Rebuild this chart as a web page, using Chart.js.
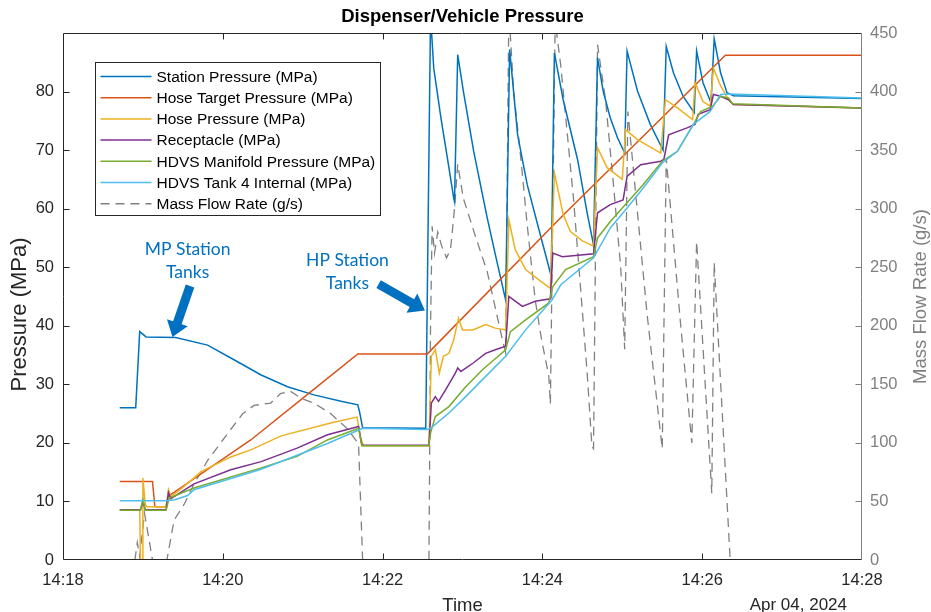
<!DOCTYPE html>
<html>
<head>
<meta charset="utf-8">
<title>Dispenser/Vehicle Pressure</title>
<script src="https://cdn.jsdelivr.net/npm/chart.js@4.4.1/dist/chart.umd.min.js"></script>
<style>
  html, body { margin: 0; padding: 0; background: #fff; }
  #wrap { position: relative; width: 931px; height: 612px; }
</style>
</head>
<body>
<div id="wrap"><canvas id="pressureChart"></canvas></div>
<script>
// time is in minutes after 14:18:00, pressures in MPa, flow in g/s
const stationTime = [0.71, 0.91, 0.96, 1.04, 1.41, 1.81, 2.14, 2.48, 2.81, 3.14, 3.48, 3.69, 3.71, 3.75, 4.54, 4.60, 4.64, 4.73, 4.81, 4.89, 4.90, 4.94, 5.01, 5.14, 5.31, 5.44, 5.54, 5.59, 5.69, 5.81, 5.94, 6.11, 6.15, 6.26, 6.44, 6.56, 6.64, 6.69, 6.76, 6.85, 6.94, 7.03, 7.06, 7.19, 7.35, 7.51, 7.55, 7.64, 7.76, 7.90, 7.93, 8.01, 8.11, 8.15, 8.23, 8.31, 8.39, 10.0];
const stationP = [26.0, 26.0, 39.0, 38.1, 38.0, 36.7, 34.2, 31.6, 29.6, 28.2, 27.1, 26.5, 25.4, 22.6, 22.5, 93.0, 84.0, 75.5, 68.7, 61.8, 61.2, 86.3, 80.1, 69.8, 58.4, 50.4, 44.4, 87.2, 72.6, 64.1, 57.3, 48.5, 86.6, 78.6, 68.4, 59.3, 53.8, 85.8, 80.1, 75.5, 72.1, 69.5, 86.9, 80.1, 74.4, 70.0, 87.7, 83.2, 79.2, 76.4, 86.9, 81.5, 78.1, 89.0, 83.2, 79.8, 79.3, 78.8];

const targetTime = [0.71, 1.12, 1.15, 1.29, 1.32, 2.35, 3.08, 3.69, 4.56, 6.29, 8.29, 10.0];
const targetP = [13.4, 13.4, 9.1, 9.1, 10.9, 20.5, 28.5, 35.2, 35.2, 59.3, 86.2, 86.2];

const hoseTime = [0.71, 0.96, 0.97, 0.99, 1.00, 1.03, 1.05, 1.29, 1.32, 1.35, 1.50, 1.73, 2.10, 2.35, 2.73, 3.35, 3.68, 3.72, 3.76, 4.58, 4.61, 4.66, 4.71, 4.76, 4.83, 4.89, 4.95, 5.00, 5.13, 5.29, 5.41, 5.54, 5.58, 5.66, 5.79, 5.98, 6.10, 6.15, 6.26, 6.35, 6.50, 6.64, 6.69, 6.81, 7.00, 7.04, 7.19, 7.48, 7.54, 7.69, 7.88, 7.91, 8.01, 8.10, 8.14, 8.23, 8.33, 8.39, 10.0];
const hoseP = [8.6, 8.6, 0, 0, 14.0, 9.5, 9.1, 9.1, 12.0, 10.8, 12.4, 15.1, 17.6, 18.8, 21.2, 23.4, 24.4, 21.0, 19.5, 19.5, 34.8, 35.9, 31.9, 34.8, 35.3, 37.6, 41.3, 39.3, 39.3, 40.2, 39.6, 39.3, 58.1, 53.0, 49.6, 47.6, 46.4, 66.1, 59.0, 56.1, 54.5, 53.6, 70.4, 67.0, 65.0, 73.5, 71.8, 69.5, 78.6, 77.2, 75.2, 81.5, 78.3, 77.5, 84.0, 81.0, 78.6, 77.8, 77.2];

const receptacleTime = [0.71, 0.97, 1.00, 1.03, 1.29, 1.32, 1.35, 1.64, 2.10, 2.48, 2.93, 3.31, 3.70, 3.74, 4.58, 4.61, 4.66, 4.70, 4.79, 4.91, 4.94, 4.98, 5.13, 5.29, 5.41, 5.54, 5.58, 5.66, 5.75, 5.91, 6.10, 6.13, 6.25, 6.64, 6.69, 6.85, 7.01, 7.06, 7.23, 7.48, 7.52, 7.58, 7.81, 7.91, 7.95, 8.10, 8.14, 8.23, 8.33, 8.39, 10.0];
const receptacleP = [8.6, 8.6, 10.0, 8.6, 8.6, 11.5, 10.5, 13.0, 15.4, 16.8, 19.1, 21.4, 22.8, 19.6, 19.6, 26.8, 27.9, 27.1, 29.1, 31.9, 32.8, 32.2, 33.6, 35.3, 35.9, 36.5, 45.0, 44.2, 43.3, 44.2, 44.6, 52.4, 51.8, 52.3, 59.3, 60.7, 61.5, 65.5, 67.5, 68.1, 68.4, 72.6, 73.8, 74.4, 76.1, 76.9, 79.5, 79.2, 78.6, 77.8, 77.2];

const manifoldTime = [0.71, 0.97, 1.00, 1.03, 1.29, 1.33, 1.64, 2.45, 2.93, 3.31, 3.70, 3.74, 4.58, 4.60, 4.66, 4.83, 5.04, 5.25, 5.54, 5.60, 5.79, 6.08, 6.13, 6.29, 6.64, 6.69, 6.85, 7.04, 7.26, 7.50, 7.69, 7.89, 7.98, 8.13, 8.23, 8.33, 8.38, 10.0];
const manifoldP = [8.5, 8.5, 10.3, 8.5, 8.5, 10.6, 12.3, 15.6, 17.7, 20.5, 22.5, 19.5, 19.5, 21.7, 24.5, 26.2, 29.6, 32.5, 35.9, 39.0, 41.0, 43.9, 46.7, 49.6, 51.8, 55.0, 57.8, 60.7, 64.1, 68.1, 69.8, 74.4, 76.6, 77.5, 79.2, 78.9, 77.9, 77.2];

const tankTime = [0.71, 1.30, 1.40, 1.56, 1.64, 2.48, 3.31, 3.70, 3.75, 4.56, 4.60, 4.83, 5.04, 5.25, 5.54, 5.79, 6.12, 6.23, 6.64, 6.85, 7.06, 7.26, 7.50, 7.69, 7.89, 8.10, 8.23, 8.35, 10.0];
const tankP = [10.1, 10.1, 10.3, 11.0, 12.0, 15.5, 19.9, 22.2, 22.5, 22.3, 22.5, 25.1, 27.9, 30.8, 34.8, 39.3, 44.4, 47.0, 51.6, 56.7, 60.1, 63.5, 67.8, 69.8, 74.4, 76.6, 79.5, 79.6, 78.9];

const flowTime = [0.71, 0.90, 0.93, 0.96, 1.02, 1.12, 1.30, 1.39, 1.52, 1.64, 1.81, 2.06, 2.25, 2.39, 2.60, 2.72, 2.85, 2.98, 3.14, 3.35, 3.56, 3.68, 3.70, 3.75, 4.58, 4.60, 4.62, 4.65, 4.69, 4.74, 4.80, 4.85, 4.90, 4.94, 5.01, 5.14, 5.31, 5.49, 5.54, 5.58, 5.64, 5.73, 5.81, 5.91, 5.99, 6.08, 6.10, 6.16, 6.23, 6.31, 6.39, 6.48, 6.56, 6.62, 6.64, 6.69, 6.79, 6.89, 6.98, 7.03, 7.07, 7.31, 7.50, 7.55, 7.73, 7.87, 7.93, 8.12, 8.15, 8.35, 10.0];
const flowRate = [0, 0, 15, 3, 40, 0, 0, 34, 48, 65, 85, 108, 125, 132, 134, 142, 144, 138, 134, 125, 112, 101, 97, 0, 0, 200, 285, 262, 280, 268, 258, 265, 300, 338, 309, 281, 246, 191, 177, 470, 400, 343, 286, 222, 188, 157, 133, 460, 422, 365, 308, 230, 160, 97, 95, 440, 393, 320, 250, 180, 383, 210, 95, 343, 201, 100, 272, 57, 254, 0, 0];

const timeTicks = [0, 2, 4, 6, 8, 10];
const pressureTicks = [0, 10, 20, 30, 40, 50, 60, 70, 80];
const flowTicks = [0, 50, 100, 150, 200, 250, 300, 350, 400, 450];

const textDark = '#262626';
const flowGray = '#808080';
const callBlue = '#0070C0';
const fontFamily = "'Liberation Sans', Arial, sans-serif";

const toPoints = (times, values) => times.map((t, i) => ({ x: t, y: values[i] }));

const line = (label, times, values, color, order) => ({
  label: label,
  data: toPoints(times, values),
  borderColor: color,
  backgroundColor: color,
  borderWidth: 1.5,
  pointRadius: 0,
  tension: 0,
  fill: false,
  yAxisID: 'y',
  order: order
});

const datasets = [
  line('Station Pressure (MPa)', stationTime, stationP, '#0072BD', 6),
  line('Hose Target Pressure (MPa)', targetTime, targetP, '#D95319', 5),
  line('Hose Pressure (MPa)', hoseTime, hoseP, '#EDB120', 4),
  line('Receptacle (MPa)', receptacleTime, receptacleP, '#7E2F8E', 3),
  line('HDVS Manifold Pressure (MPa)', manifoldTime, manifoldP, '#77AC30', 2),
  line('HDVS Tank 4 Internal (MPa)', tankTime, tankP, '#4DBEEE', 1),
  {
    label: 'Mass Flow Rate (g/s)',
    data: toPoints(flowTime, flowRate),
    borderColor: flowGray,
    borderWidth: 1.3,
    borderDash: [9, 6],
    pointRadius: 0,
    tension: 0,
    fill: false,
    yAxisID: 'y1',
    order: 7
  }
];

// arrow with a thick shaft, drawn from (x0,y0) to the tip (x1,y1)
function drawArrow(ctx, x0, y0, x1, y1) {
  const len = Math.hypot(x1 - x0, y1 - y0);
  ctx.save();
  ctx.translate(x0, y0);
  ctx.rotate(Math.atan2(y1 - y0, x1 - x0));
  ctx.beginPath();
  ctx.moveTo(0, -4.5);
  ctx.lineTo(len - 15, -4.5);
  ctx.lineTo(len - 15, -11);
  ctx.lineTo(len, 0);
  ctx.lineTo(len - 15, 11);
  ctx.lineTo(len - 15, 4.5);
  ctx.lineTo(0, 4.5);
  ctx.closePath();
  ctx.fill();
  ctx.restore();
}

// callouts, placed in data units (minutes, MPa)
const callouts = [
  { lines: ['MP Station', 'Tanks'], at: [1.56, 53.0], from: [1.59, 46.8], to: [1.37, 38.1] },
  { lines: ['HP Station', 'Tanks'], at: [3.56, 51.1], from: [3.95, 47.1], to: [4.53, 42.6] }
];

// MATLAB style box: inward ticks, titles, legend and the callouts
const decorations = {
  id: 'decorations',
  afterDraw(chart) {
    const { ctx, chartArea: a, scales } = chart;
    const xs = scales.x, ys = scales.y, yr = scales.y1;
    const L = Math.round(a.left) + 0.5, R = Math.round(a.right) - 0.5;
    const T = Math.round(a.top) + 0.5, B = Math.round(a.bottom) - 0.5;
    const midX = (L + R) / 2, midY = (T + B) / 2;
    ctx.save();

    ctx.lineWidth = 1;
    ctx.strokeStyle = textDark;
    ctx.beginPath();
    ctx.moveTo(R, T); ctx.lineTo(L, T); ctx.lineTo(L, B); ctx.lineTo(R, B);
    timeTicks.slice(1, -1).forEach(v => {
      const px = Math.round(xs.getPixelForValue(v)) + 0.5;
      ctx.moveTo(px, B); ctx.lineTo(px, B - 6);
      ctx.moveTo(px, T); ctx.lineTo(px, T + 6);
    });
    pressureTicks.slice(1).forEach(v => {
      const py = Math.round(ys.getPixelForValue(v)) + 0.5;
      ctx.moveTo(L, py); ctx.lineTo(L + 6, py);
    });
    ctx.stroke();

    ctx.strokeStyle = flowGray;
    ctx.beginPath();
    ctx.moveTo(R, T); ctx.lineTo(R, B);
    flowTicks.slice(1, -1).forEach(v => {
      const py = Math.round(yr.getPixelForValue(v)) + 0.5;
      ctx.moveTo(R, py); ctx.lineTo(R - 6, py);
    });
    ctx.stroke();

    // titles
    ctx.fillStyle = '#000';
    ctx.textAlign = 'center';
    ctx.textBaseline = 'middle';
    ctx.font = `bold 18.5px ${fontFamily}`;
    ctx.fillText('Dispenser/Vehicle Pressure', midX, 17);

    ctx.fillStyle = textDark;
    ctx.textBaseline = 'alphabetic';
    ctx.font = `18.5px ${fontFamily}`;
    ctx.fillText('Time', midX, 611);
    ctx.textAlign = 'right';
    ctx.font = `17px ${fontFamily}`;
    ctx.fillText('Apr 04, 2024', 847, 610);

    ctx.textAlign = 'center';
    ctx.textBaseline = 'middle';
    ctx.save();
    ctx.translate(20, midY + 18);
    ctx.rotate(-Math.PI / 2);
    ctx.font = `22px ${fontFamily}`;
    ctx.fillText('Pressure (MPa)', 0, 0);
    ctx.restore();

    ctx.save();
    ctx.translate(921, midY);
    ctx.rotate(-Math.PI / 2);
    ctx.fillStyle = flowGray;
    ctx.font = `18.5px ${fontFamily}`;
    ctx.fillText('Mass Flow Rate (g/s)', 0, 0);
    ctx.restore();

    // legend
    const lx = Math.round(a.left) + 32.5, ly = Math.round(a.top) + 29.5;
    ctx.fillStyle = '#fff';
    ctx.fillRect(lx, ly, 285, 153);
    ctx.strokeStyle = textDark;
    ctx.strokeRect(lx, ly, 285, 153);
    ctx.font = `15.5px ${fontFamily}`;
    ctx.textAlign = 'left';
    chart.data.datasets.forEach((ds, i) => {
      const rowY = ly + 14 + i * 21.2;
      ctx.strokeStyle = ds.borderColor;
      ctx.lineWidth = 1.5;
      ctx.setLineDash(ds.borderDash || []);
      ctx.beginPath();
      ctx.moveTo(lx + 5, rowY);
      ctx.lineTo(lx + 56, rowY);
      ctx.stroke();
      ctx.setLineDash([]);
      ctx.fillStyle = '#000';
      ctx.fillText(ds.label, lx + 61, rowY + 1);
    });

    // callouts
    ctx.fillStyle = callBlue;
    ctx.textAlign = 'center';
    ctx.font = `17.5px Lato, 'Open Sans', sans-serif`;
    callouts.forEach(c => {
      const cx = xs.getPixelForValue(c.at[0]);
      const cy = ys.getPixelForValue(c.at[1]);
      c.lines.forEach((txt, i) => ctx.fillText(txt, cx, cy + i * 23));
      drawArrow(ctx,
        xs.getPixelForValue(c.from[0]), ys.getPixelForValue(c.from[1]),
        xs.getPixelForValue(c.to[0]), ys.getPixelForValue(c.to[1]));
    });

    ctx.restore();
  }
};

const tickFont = { family: fontFamily, size: 16.5 };

new Chart(document.getElementById('pressureChart'), {
  type: 'line',
  data: { datasets: datasets },
  options: {
    responsive: true,
    maintainAspectRatio: false,
    animation: false,
    layout: { padding: { top: 33, left: 0, right: 0, bottom: 0 } },
    plugins: {
      legend: { display: false },
      title: { display: false },
      tooltip: { enabled: false }
    },
    scales: {
      x: {
        type: 'linear',
        min: 0,
        max: 10,
        grid: { display: false, drawTicks: false },
        border: { display: false },
        afterBuildTicks: s => { s.ticks = timeTicks.map(v => ({ value: v })); },
        ticks: {
          padding: 11,
          color: textDark,
          font: tickFont,
          maxRotation: 0,
          autoSkip: false,
          callback: v => '14:' + (18 + v)
        },
        afterFit: s => { s.height = 52; }
      },
      y: {
        position: 'left',
        min: 0,
        max: 90,
        grid: { display: false, drawTicks: false },
        border: { display: false },
        afterBuildTicks: s => { s.ticks = pressureTicks.map(v => ({ value: v })); },
        ticks: { padding: 9, color: textDark, font: tickFont },
        afterFit: s => { s.width = 63; }
      },
      y1: {
        position: 'right',
        min: 0,
        max: 450,
        grid: { display: false, drawTicks: false },
        border: { display: false },
        afterBuildTicks: s => { s.ticks = flowTicks.map(v => ({ value: v })); },
        ticks: { padding: 8, color: flowGray, font: tickFont },
        afterFit: s => { s.width = 69; }
      }
    }
  },
  plugins: [decorations]
});
</script>
</body>
</html>
